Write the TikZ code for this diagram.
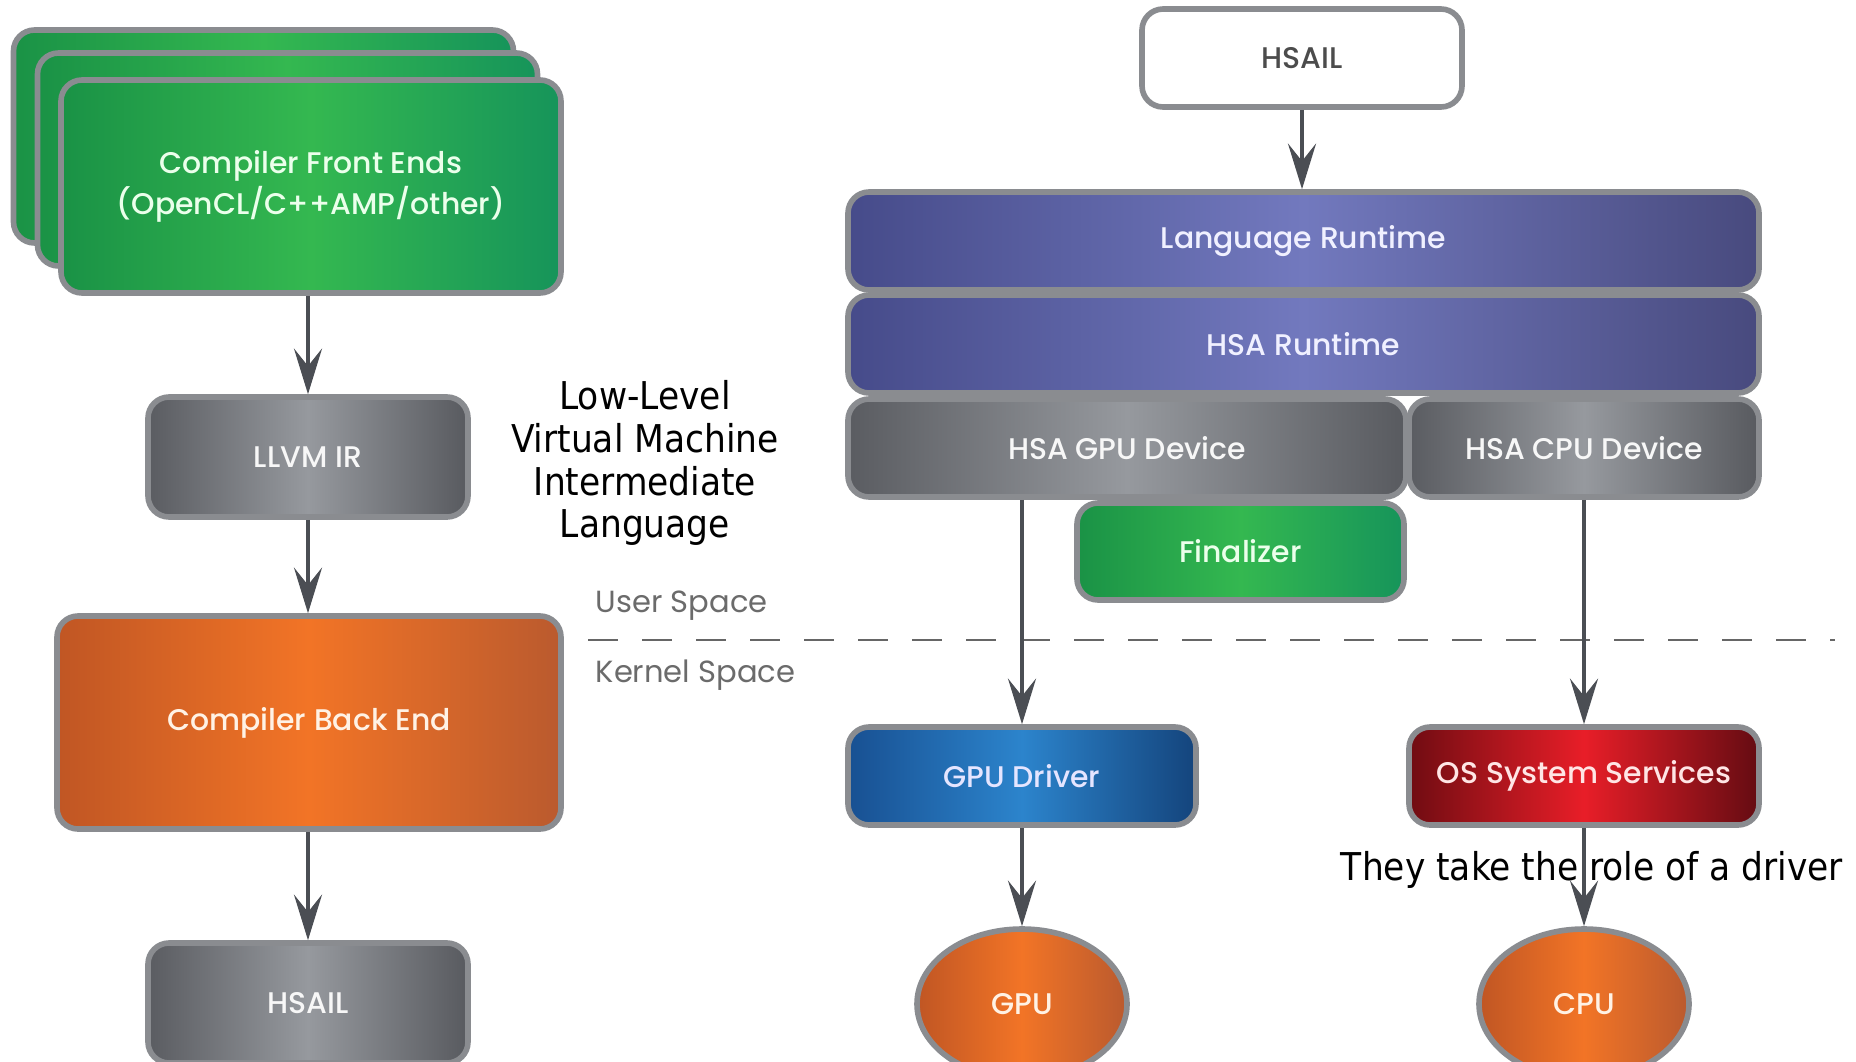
\documentclass[tikz,border=0pt]{standalone}
\usepackage{fontspec}
\setmainfont{DejaVu Sans Condensed}
\newfontfamily\boxfont{Poppins Medium}
\newfontfamily\spacefont{Poppins}
\usetikzlibrary{arrows.meta,shapes.geometric}

\definecolor{rim}{RGB}{138,140,144}
\definecolor{arrowgray}{RGB}{75,78,84}
\definecolor{grnA}{RGB}{26,146,70}
\definecolor{grnB}{RGB}{52,184,80}
\definecolor{grnC}{RGB}{22,148,90}
\definecolor{gryA}{RGB}{90,92,97}
\definecolor{gryB}{RGB}{150,153,158}
\definecolor{gryC}{RGB}{88,90,95}
\definecolor{orgA}{RGB}{192,86,36}
\definecolor{orgB}{RGB}{242,116,38}
\definecolor{orgC}{RGB}{186,90,46}
\definecolor{purA}{RGB}{70,75,138}
\definecolor{purB}{RGB}{114,121,190}
\definecolor{purC}{RGB}{72,74,126}
\definecolor{bluA}{RGB}{24,80,146}
\definecolor{bluB}{RGB}{44,132,204}
\definecolor{bluC}{RGB}{20,68,124}
\definecolor{redA}{RGB}{112,12,18}
\definecolor{redB}{RGB}{232,30,40}
\definecolor{redC}{RGB}{100,12,18}

\begin{document}
\begin{tikzpicture}[
    blk/.style={rounded corners=6pt, draw=rim, line width=1.6pt, inner sep=0pt,
      align=center, minimum height=0.98cm, font=\boxfont\fontsize{8.5}{11.5}\selectfont},
    greenblk/.style={blk, left color=grnA, right color=grnC, middle color=grnB, text=green!8},
    grayblk/.style={blk, left color=gryA, right color=gryC, middle color=gryB, text=white!94!gray},
    orangeblk/.style={blk, left color=orgA, right color=orgC, middle color=orgB, text=orange!10},
    runblk/.style={blk, left color=purA, right color=purC, middle color=purB, text=white!94!blue},
    drvblk/.style={blk, left color=bluA, right color=bluC, middle color=bluB, text=white!90!blue},
    svcblk/.style={blk, left color=redA, right color=redC, middle color=redB, text=white!90!red},
    chip/.style={ellipse, draw=rim, line width=1.6pt, inner sep=0pt, minimum width=2.1cm,
      minimum height=1.5cm, left color=orgA, right color=orgC, middle color=orgB, text=orange!10,
      font=\boxfont\fontsize{8.5}{11.5}\selectfont},
    flow/.style={draw=arrowgray, line width=1pt, -{Stealth[length=13pt,width=8pt,inset=5pt]}},
    note/.style={font=\fontsize{10.9}{12.2}\selectfont, align=center},
    space/.style={font=\spacefont\fontsize{8.7}{10}\selectfont, text=black!58, anchor=west, inner sep=0pt}
  ]
  \useasboundingbox (0,0) rectangle (18.56,10.61);
  \clip (0,0) rectangle (18.56,10.61);

  % compiler chain
  \node[greenblk, minimum width=5cm, minimum height=2.13cm] (front3) at (2.635,9.245) {};
  \node[greenblk, minimum width=5cm, minimum height=2.13cm] (front2) at (2.875,9.015) {};
  \node[greenblk, minimum width=5cm, minimum height=2.13cm] (front) at (3.11,8.745)
    {Compiler Front Ends\\(OpenCL/C++AMP/other)};
  \node[grayblk, minimum width=3.2cm, minimum height=1.2cm] (llvm) at (3.08,6.04) {LLVM IR};
  \node[orangeblk, minimum width=5.04cm, minimum height=2.13cm] (backend) at (3.09,3.385) {Compiler Back End};
  \node[grayblk, minimum width=3.2cm, minimum height=1.2cm] (hsailL) at (3.08,0.58) {HSAIL};

  \draw[flow] (front.south -| llvm) -- (llvm.north);
  \draw[flow] (llvm.south) -- (llvm.south |- backend.north);
  \draw[flow] (llvm.south |- backend.south) -- (hsailL.north);

  \node[note] (llvmnote) at (6.45,5.98) {Low-Level\\Virtual Machine\\Intermediate\\Language};

  % user / kernel boundary
  \node[space] (user) at (5.95,4.55) {User Space};
  \node[space] (kernel) at (5.95,3.86) {Kernel Space};
  \coordinate (sepL) at (5.88,4.21);
  \coordinate (sepR) at (18.35,4.21);
  \draw[black!60, line width=0.7pt, dash pattern=on 0.3cm off 0.24cm] (sepL) -- (sepR);

  % runtime stack
  \node[blk, fill=white, text=black!70, minimum width=3.2cm] (hsailR) at (13.02,10.03) {HSAIL};
  \node[runblk, minimum width=9.11cm] (langrt) at (13.035,8.2) {Language Runtime};
  \node[runblk, minimum width=9.11cm] (hsart) at (13.035,7.17) {HSA Runtime};
  \node[grayblk, minimum width=5.58cm] (gpudev) at (11.27,6.13) {HSA GPU Device};
  \node[grayblk, minimum width=3.5cm] (cpudev) at (15.84,6.13) {HSA CPU Device};
  \node[greenblk, minimum width=3.27cm, minimum height=0.97cm] (final) at (12.405,5.095) {Finalizer};
  \node[drvblk, minimum width=3.48cm] (gpudrv) at (10.22,2.85) {GPU Driver};
  \node[svcblk, minimum width=3.5cm] (ossvc) at (15.84,2.85) {OS System Services};
  \node[chip] (gpu) at (10.22,0.57) {GPU};
  \node[chip] (cpu) at (15.84,0.57) {CPU};

  \node[note] (drvnote) at (15.92,1.91) {They take the role of a driver};

  \draw[flow] (hsailR.south) -- (hsailR.south |- langrt.north);
  \draw[flow] (gpudrv.north |- gpudev.south) -- (gpudrv.north);
  \draw[flow] (cpudev.south) -- (ossvc.north);
  \draw[flow] (gpudrv.south) -- (gpu.north);
  \draw[flow] (ossvc.south) -- (cpu.north);
\end{tikzpicture}
\end{document}
